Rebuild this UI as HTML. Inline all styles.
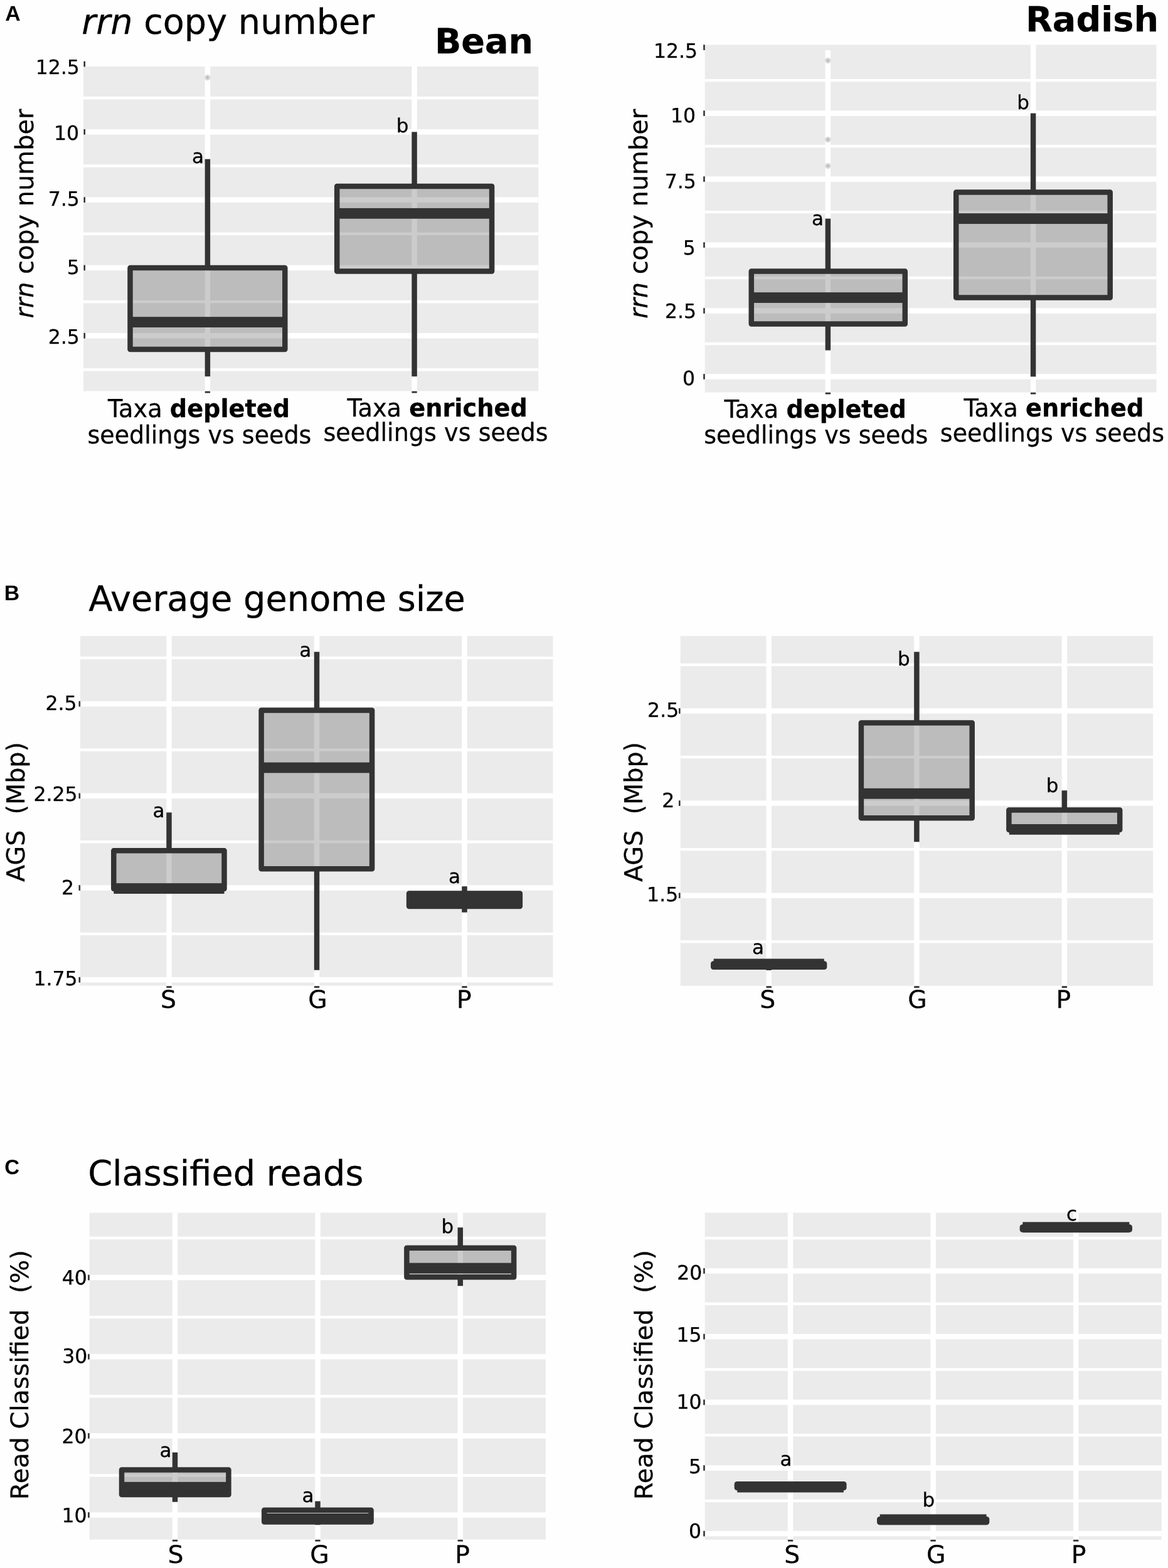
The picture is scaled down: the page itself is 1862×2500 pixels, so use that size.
<!DOCTYPE html>
<html lang="en">
<head>
<meta charset="utf-8">
<title>rrn copy number, average genome size and classified reads</title>
<style>
html,body{margin:0;padding:0;background:#fff;}
body{width:1862px;height:2500px;overflow:hidden;}
svg{display:block;}
text{font-family:"DejaVu Sans","Liberation Sans",sans-serif;fill:#000;stroke:#000;stroke-width:0.3px;stroke-linejoin:round;text-rendering:geometricPrecision;white-space:pre;}
</style>
</head>
<body>
<svg width="1862" height="2500" viewBox="0 0 1862 2500">
<rect x="0" y="0" width="1862" height="2500" fill="#fefefe"/>
<rect x="133" y="106" width="725.3" height="517.6" fill="#ebebeb"/>
<g fill="#fff">
<rect x="133" y="154" width="725.3" height="4.4"/>
<rect x="133" y="262.3" width="725.3" height="4.4"/>
<rect x="133" y="370.6" width="725.3" height="4.4"/>
<rect x="133" y="478.9" width="725.3" height="4.4"/>
<rect x="133" y="587.2" width="725.3" height="4.4"/>
<rect x="133" y="206.1" width="725.3" height="8.5"/>
<rect x="133" y="314.4" width="725.3" height="8.5"/>
<rect x="133" y="422.7" width="725.3" height="8.5"/>
<rect x="133" y="531" width="725.3" height="8.5"/>
<rect x="326.65" y="106" width="8.5" height="517.6"/>
<rect x="656.35" y="106" width="8.5" height="517.6"/>
</g>
<rect x="133.4" y="97.7" width="2.6" height="8.7" fill="#333333"/>
<rect x="133.4" y="206" width="2.6" height="8.7" fill="#333333"/>
<rect x="133.4" y="314.3" width="2.6" height="8.7" fill="#333333"/>
<rect x="133.4" y="422.6" width="2.6" height="8.7" fill="#333333"/>
<rect x="133.4" y="530.9" width="2.6" height="8.7" fill="#333333"/>
<rect x="326.75" y="623.8" width="8.3" height="2.8" fill="#333333"/>
<rect x="656.45" y="623.8" width="8.3" height="2.8" fill="#333333"/>
<circle cx="330.8" cy="123.71" r="4.6" fill="#c8c8c8" fill-opacity="0.75"/>
<circle cx="330.8" cy="123.71" r="1.6" fill="#aaaaaa" fill-opacity="0.8"/>
<rect x="326.65" y="253.67" width="8.5" height="173.28" fill="#333333"/>
<rect x="326.65" y="556.91" width="8.5" height="43.32" fill="#333333"/>
<rect x="207.5" y="426.95" width="246.8" height="129.96" fill="rgba(0,0,0,0.2)" stroke="#333333" stroke-width="8.5" stroke-linejoin="round"/>
<rect x="207.5" y="505.19" width="246.8" height="16.8" fill="#333333"/>
<rect x="656.35" y="210.35" width="8.5" height="86.64" fill="#333333"/>
<rect x="656.35" y="432.4" width="8.5" height="167.83" fill="#333333"/>
<rect x="537.2" y="296.99" width="246.9" height="135.41" fill="rgba(0,0,0,0.2)" stroke="#333333" stroke-width="8.5" stroke-linejoin="round"/>
<rect x="537.2" y="331.91" width="246.9" height="16.8" fill="#333333"/>
<text transform="translate(56.69 118.23)" font-size="31.5" xml:space="preserve">12.5</text>
<text transform="translate(86.06 223.33)" font-size="31.5" xml:space="preserve">10</text>
<text transform="translate(76.69 327.93)" font-size="31.5" xml:space="preserve">7.5</text>
<text transform="translate(106.78 437.23)" font-size="31.5" xml:space="preserve">5</text>
<text transform="translate(76.69 547.83)" font-size="31.5" xml:space="preserve">2.5</text>
<text transform="translate(305.97 259.85)" font-size="31" stroke-width="0.15" xml:space="preserve">a</text>
<text transform="translate(631.82 210.85)" font-size="31" stroke-width="0.15" xml:space="preserve">b</text>
<text transform="translate(53 507.59) rotate(-90)" font-size="39.83" xml:space="preserve"><tspan font-style="italic">rrn</tspan><tspan> copy number</tspan></text>
<text transform="translate(8.13 32.7)" font-size="33.8" xml:space="preserve"><tspan font-family="Liberation Sans, Arial, Helvetica, sans-serif" font-weight="bold" stroke="none">A</tspan></text>
<text transform="translate(130.35 54.3)" font-size="55.69" xml:space="preserve"><tspan font-style="italic">rrn</tspan><tspan> copy number</tspan></text>
<text transform="translate(692.91 84.5) scale(1 0.9920)" font-size="55.65" xml:space="preserve"><tspan font-weight="bold">Bean</tspan></text>
<text transform="translate(172 665.2) scale(1 1.0350)" font-size="38.28" xml:space="preserve"><tspan>Taxa </tspan><tspan font-weight="bold">depleted</tspan></text>
<text transform="translate(139.51 707) scale(1 1.0450)" font-size="38.03" xml:space="preserve">seedlings vs seeds</text>
<text transform="translate(553.4 664) scale(1 1.0350)" font-size="38.3" xml:space="preserve"><tspan>Taxa </tspan><tspan font-weight="bold">enriched</tspan></text>
<text transform="translate(515.4 703.4) scale(1 1.0450)" font-size="38.17" xml:space="preserve">seedlings vs seeds</text>
<rect x="1123.7" y="71.4" width="719.8" height="554.2" fill="#ebebeb"/>
<g fill="#fff">
<rect x="1123.7" y="125.91" width="719.8" height="4.4"/>
<rect x="1123.7" y="230.89" width="719.8" height="4.4"/>
<rect x="1123.7" y="335.86" width="719.8" height="4.4"/>
<rect x="1123.7" y="440.84" width="719.8" height="4.4"/>
<rect x="1123.7" y="545.81" width="719.8" height="4.4"/>
<rect x="1123.7" y="176.35" width="719.8" height="8.5"/>
<rect x="1123.7" y="281.32" width="719.8" height="8.5"/>
<rect x="1123.7" y="386.3" width="719.8" height="8.5"/>
<rect x="1123.7" y="491.27" width="719.8" height="8.5"/>
<rect x="1123.7" y="596.25" width="719.8" height="8.5"/>
<rect x="1315.65" y="80" width="8.5" height="545.6"/>
<rect x="1642.85" y="71.4" width="8.5" height="554.2"/>
</g>
<rect x="1121.2" y="71.27" width="2.6" height="8.7" fill="#333333"/>
<rect x="1121.2" y="176.25" width="2.6" height="8.7" fill="#333333"/>
<rect x="1121.2" y="281.22" width="2.6" height="8.7" fill="#333333"/>
<rect x="1121.2" y="386.2" width="2.6" height="8.7" fill="#333333"/>
<rect x="1121.2" y="491.17" width="2.6" height="8.7" fill="#333333"/>
<rect x="1121.2" y="596.15" width="2.6" height="8.7" fill="#333333"/>
<rect x="1315.75" y="625.8" width="8.3" height="2.8" fill="#333333"/>
<rect x="1642.95" y="625.8" width="8.3" height="2.8" fill="#333333"/>
<circle cx="1319.9" cy="96.62" r="4.6" fill="#c8c8c8" fill-opacity="0.75"/>
<circle cx="1319.9" cy="96.62" r="1.6" fill="#aaaaaa" fill-opacity="0.8"/>
<circle cx="1319.9" cy="222.59" r="4.6" fill="#c8c8c8" fill-opacity="0.75"/>
<circle cx="1319.9" cy="222.59" r="1.6" fill="#aaaaaa" fill-opacity="0.8"/>
<circle cx="1319.9" cy="264.58" r="4.6" fill="#c8c8c8" fill-opacity="0.75"/>
<circle cx="1319.9" cy="264.58" r="1.6" fill="#aaaaaa" fill-opacity="0.8"/>
<rect x="1315.65" y="348.56" width="8.5" height="83.98" fill="#333333"/>
<rect x="1315.65" y="516.52" width="8.5" height="41.99" fill="#333333"/>
<rect x="1197.8" y="432.54" width="245" height="83.98" fill="rgba(0,0,0,0.2)" stroke="#333333" stroke-width="8.5" stroke-linejoin="round"/>
<rect x="1197.8" y="466.13" width="245" height="16.8" fill="#333333"/>
<rect x="1642.85" y="180.6" width="8.5" height="125.97" fill="#333333"/>
<rect x="1642.85" y="474.53" width="8.5" height="125.97" fill="#333333"/>
<rect x="1524.2" y="306.57" width="245.5" height="167.96" fill="rgba(0,0,0,0.2)" stroke="#333333" stroke-width="8.5" stroke-linejoin="round"/>
<rect x="1524.2" y="340.16" width="245.5" height="16.8" fill="#333333"/>
<text transform="translate(1041.99 91.73)" font-size="31.5" xml:space="preserve">12.5</text>
<text transform="translate(1068.96 194.93)" font-size="31.5" xml:space="preserve">10</text>
<text transform="translate(1059.69 299.83)" font-size="31.5" xml:space="preserve">7.5</text>
<text transform="translate(1088.67 405.93)" font-size="31.5" xml:space="preserve">5</text>
<text transform="translate(1059.99 506.73)" font-size="31.5" xml:space="preserve">2.5</text>
<text transform="translate(1088.05 613.63)" font-size="31.5" xml:space="preserve">0</text>
<text transform="translate(1293.97 358.85)" font-size="31" stroke-width="0.15" xml:space="preserve">a</text>
<text transform="translate(1621.21 173.55)" font-size="31" stroke-width="0.15" xml:space="preserve">b</text>
<text transform="translate(1031.7 508.1) rotate(-90)" font-size="39.88" xml:space="preserve"><tspan font-style="italic">rrn</tspan><tspan> copy number</tspan></text>
<text transform="translate(1634.92 50.4) scale(1 0.9900)" font-size="55.7" xml:space="preserve"><tspan font-weight="bold">Radish</tspan></text>
<text transform="translate(1154.7 666.2) scale(1 1.0350)" font-size="38.29" xml:space="preserve"><tspan>Taxa </tspan><tspan font-weight="bold">depleted</tspan></text>
<text transform="translate(1122.21 707.3) scale(1 1.0450)" font-size="38.06" xml:space="preserve">seedlings vs seeds</text>
<text transform="translate(1536.4 664) scale(1 1.0350)" font-size="38.23" xml:space="preserve"><tspan>Taxa </tspan><tspan font-weight="bold">enriched</tspan></text>
<text transform="translate(1498.81 704) scale(1 1.0450)" font-size="38.07" xml:space="preserve">seedlings vs seeds</text>
<rect x="128" y="1014" width="753.5" height="557.6" fill="#ebebeb"/>
<g fill="#fff">
<rect x="128" y="1046.72" width="753.5" height="4.4"/>
<rect x="128" y="1193.38" width="753.5" height="4.4"/>
<rect x="128" y="1340.02" width="753.5" height="4.4"/>
<rect x="128" y="1486.67" width="753.5" height="4.4"/>
<rect x="128" y="1118" width="753.5" height="8.5"/>
<rect x="128" y="1264.65" width="753.5" height="8.5"/>
<rect x="128" y="1411.3" width="753.5" height="8.5"/>
<rect x="128" y="1557.95" width="753.5" height="8.5"/>
<rect x="265.25" y="1014" width="8.5" height="557.6"/>
<rect x="500.75" y="1014" width="8.5" height="557.6"/>
<rect x="736.25" y="1014" width="8.5" height="557.6"/>
</g>
<rect x="125.5" y="1117.9" width="2.6" height="8.7" fill="#333333"/>
<rect x="125.5" y="1264.55" width="2.6" height="8.7" fill="#333333"/>
<rect x="125.5" y="1411.2" width="2.6" height="8.7" fill="#333333"/>
<rect x="125.5" y="1557.85" width="2.6" height="8.7" fill="#333333"/>
<rect x="265.35" y="1572.2" width="8.3" height="2.8" fill="#333333"/>
<rect x="500.85" y="1572.2" width="8.3" height="2.8" fill="#333333"/>
<rect x="736.35" y="1572.2" width="8.3" height="2.8" fill="#333333"/>
<rect x="265.25" y="1295.4" width="8.5" height="60.8" fill="#333333"/>
<rect x="265.25" y="1417" width="8.5" height="3" fill="#333333"/>
<rect x="181.3" y="1356.2" width="176.2" height="60.8" fill="rgba(0,0,0,0.2)" stroke="#333333" stroke-width="8.5" stroke-linejoin="round"/>
<rect x="181.3" y="1408.2" width="176.2" height="16.8" fill="#333333"/>
<rect x="500.75" y="1039.3" width="8.5" height="93.3" fill="#333333"/>
<rect x="500.75" y="1385.3" width="8.5" height="161.4" fill="#333333"/>
<rect x="416.6" y="1132.6" width="176.5" height="252.7" fill="rgba(0,0,0,0.2)" stroke="#333333" stroke-width="8.5" stroke-linejoin="round"/>
<rect x="416.6" y="1215.6" width="176.5" height="16.8" fill="#333333"/>
<rect x="736.25" y="1413.2" width="8.5" height="11.2" fill="#333333"/>
<rect x="736.25" y="1445" width="8.5" height="9.7" fill="#333333"/>
<rect x="652.1" y="1424.4" width="176.8" height="20.6" fill="rgba(0,0,0,0.2)" stroke="#333333" stroke-width="8.5" stroke-linejoin="round"/>
<rect x="652.1" y="1426.3" width="176.8" height="16.8" fill="#333333"/>
<text transform="translate(72.39 1132.23)" font-size="31.5" xml:space="preserve">2.5</text>
<text transform="translate(53.49 1277.03)" font-size="31.5" xml:space="preserve">2.25</text>
<text transform="translate(97.95 1426.4)" font-size="31.5" xml:space="preserve">2</text>
<text transform="translate(53.49 1571.13)" font-size="31.5" xml:space="preserve">1.75</text>
<text transform="translate(243.47 1302.55)" font-size="31" stroke-width="0.15" xml:space="preserve">a</text>
<text transform="translate(477.27 1047.05)" font-size="31" stroke-width="0.15" xml:space="preserve">a</text>
<text transform="translate(714.97 1407.55)" font-size="31" stroke-width="0.15" xml:space="preserve">a</text>
<text transform="translate(39.3 1405.9) rotate(-90)" font-size="39.64" xml:space="preserve">AGS  (Mbp)</text>
<text transform="translate(6.76 956.8)" font-size="33.8" xml:space="preserve"><tspan font-family="Liberation Sans, Arial, Helvetica, sans-serif" font-weight="bold" stroke="none">B</tspan></text>
<text transform="translate(141.18 974.2)" font-size="55.8" xml:space="preserve">Average genome size</text>
<text transform="translate(255.89 1606.7) scale(1 0.9900)" font-size="39.4" xml:space="preserve">S</text>
<text transform="translate(491.37 1606.7) scale(1 0.9900)" font-size="39.4" xml:space="preserve">G</text>
<text transform="translate(728.05 1606.7) scale(1 0.9900)" font-size="39.4" xml:space="preserve">P</text>
<rect x="1084.7" y="1014" width="753.4" height="557.8" fill="#ebebeb"/>
<g fill="#fff">
<rect x="1084.7" y="1057.72" width="753.4" height="4.4"/>
<rect x="1084.7" y="1204.88" width="753.4" height="4.4"/>
<rect x="1084.7" y="1352.02" width="753.4" height="4.4"/>
<rect x="1084.7" y="1499.17" width="753.4" height="4.4"/>
<rect x="1084.7" y="1129.25" width="753.4" height="8.5"/>
<rect x="1084.7" y="1276.4" width="753.4" height="8.5"/>
<rect x="1084.7" y="1423.55" width="753.4" height="8.5"/>
<rect x="1221.45" y="1014" width="8.5" height="557.8"/>
<rect x="1457.15" y="1014" width="8.5" height="557.8"/>
<rect x="1692.65" y="1014" width="8.5" height="557.8"/>
</g>
<rect x="1082" y="1129.15" width="2.6" height="8.7" fill="#333333"/>
<rect x="1082" y="1276.3" width="2.6" height="8.7" fill="#333333"/>
<rect x="1082" y="1423.45" width="2.6" height="8.7" fill="#333333"/>
<rect x="1221.55" y="1572.2" width="8.3" height="2.8" fill="#333333"/>
<rect x="1457.25" y="1572.2" width="8.3" height="2.8" fill="#333333"/>
<rect x="1692.75" y="1572.2" width="8.3" height="2.8" fill="#333333"/>
<rect x="1221.45" y="1530" width="8.5" height="6.6" fill="#333333"/>
<rect x="1221.45" y="1541.8" width="8.5" height="5.2" fill="#333333"/>
<rect x="1137.3" y="1536.6" width="176.8" height="5.2" fill="rgba(0,0,0,0.2)" stroke="#333333" stroke-width="8.5" stroke-linejoin="round"/>
<rect x="1137.7" y="1528.6" width="176" height="16.8" fill="#333333"/>
<rect x="1457.15" y="1039.3" width="8.5" height="113.1" fill="#333333"/>
<rect x="1457.15" y="1304.2" width="8.5" height="38.1" fill="#333333"/>
<rect x="1372.9" y="1152.4" width="176.8" height="151.8" fill="rgba(0,0,0,0.2)" stroke="#333333" stroke-width="8.5" stroke-linejoin="round"/>
<rect x="1372.9" y="1256.9" width="176.8" height="16.8" fill="#333333"/>
<rect x="1692.65" y="1260.3" width="8.5" height="31.1" fill="#333333"/>
<rect x="1692.65" y="1323" width="8.5" height="2" fill="#333333"/>
<rect x="1608.4" y="1291.4" width="176.8" height="31.6" fill="rgba(0,0,0,0.2)" stroke="#333333" stroke-width="8.5" stroke-linejoin="round"/>
<rect x="1608.8" y="1314" width="176" height="16.8" fill="#333333"/>
<text transform="translate(1032.09 1142.53)" font-size="31.5" xml:space="preserve">2.5</text>
<text transform="translate(1055.25 1287.1)" font-size="31.5" xml:space="preserve">2</text>
<text transform="translate(1031.09 1437.13)" font-size="31.5" xml:space="preserve">1.5</text>
<text transform="translate(1198.97 1521.45)" font-size="31" stroke-width="0.15" xml:space="preserve">a</text>
<text transform="translate(1431.12 1060.95)" font-size="31" stroke-width="0.15" xml:space="preserve">b</text>
<text transform="translate(1667.82 1262.85)" font-size="31" stroke-width="0.15" xml:space="preserve">b</text>
<text transform="translate(1024.4 1406.1) rotate(-90)" font-size="39.69" xml:space="preserve">AGS  (Mbp)</text>
<text transform="translate(1211.19 1606.7) scale(1 0.9900)" font-size="39.4" xml:space="preserve">S</text>
<text transform="translate(1447.17 1606.7) scale(1 0.9900)" font-size="39.4" xml:space="preserve">G</text>
<text transform="translate(1683.45 1606.7) scale(1 0.9900)" font-size="39.4" xml:space="preserve">P</text>
<rect x="142.6" y="1933.5" width="727.4" height="521.1" fill="#ebebeb"/>
<g fill="#fff">
<rect x="142.6" y="1971.6" width="727.4" height="4.4"/>
<rect x="142.6" y="2097.8" width="727.4" height="4.4"/>
<rect x="142.6" y="2224" width="727.4" height="4.4"/>
<rect x="142.6" y="2350.2" width="727.4" height="4.4"/>
<rect x="142.6" y="2032.65" width="727.4" height="8.5"/>
<rect x="142.6" y="2158.85" width="727.4" height="8.5"/>
<rect x="142.6" y="2285.05" width="727.4" height="8.5"/>
<rect x="142.6" y="2411.25" width="727.4" height="8.5"/>
<rect x="274.75" y="1933.5" width="8.5" height="521.1"/>
<rect x="502.25" y="1933.5" width="8.5" height="521.1"/>
<rect x="729.55" y="1933.5" width="8.5" height="521.1"/>
</g>
<rect x="140.1" y="2032.55" width="2.6" height="8.7" fill="#333333"/>
<rect x="140.1" y="2158.75" width="2.6" height="8.7" fill="#333333"/>
<rect x="140.1" y="2284.95" width="2.6" height="8.7" fill="#333333"/>
<rect x="140.1" y="2411.15" width="2.6" height="8.7" fill="#333333"/>
<rect x="274.85" y="2454.9" width="8.3" height="2.8" fill="#333333"/>
<rect x="502.35" y="2454.9" width="8.3" height="2.8" fill="#333333"/>
<rect x="729.65" y="2454.9" width="8.3" height="2.8" fill="#333333"/>
<rect x="274.75" y="2315.7" width="8.5" height="27.7" fill="#333333"/>
<rect x="274.75" y="2382.9" width="8.5" height="11.8" fill="#333333"/>
<rect x="194" y="2343.4" width="170.4" height="39.5" fill="rgba(0,0,0,0.2)" stroke="#333333" stroke-width="8.5" stroke-linejoin="round"/>
<rect x="194" y="2362.8" width="170.4" height="16.8" fill="#333333"/>
<rect x="502.25" y="2393.5" width="8.5" height="14.2" fill="#333333"/>
<rect x="502.25" y="2426.5" width="8.5" height="4.8" fill="#333333"/>
<rect x="421.2" y="2407.7" width="170.4" height="18.8" fill="rgba(0,0,0,0.2)" stroke="#333333" stroke-width="8.5" stroke-linejoin="round"/>
<rect x="421.2" y="2413" width="170.4" height="16.8" fill="#333333"/>
<rect x="729.55" y="1957.1" width="8.5" height="32.7" fill="#333333"/>
<rect x="729.55" y="2036.3" width="8.5" height="14" fill="#333333"/>
<rect x="648.4" y="1989.8" width="170.8" height="46.5" fill="rgba(0,0,0,0.2)" stroke="#333333" stroke-width="8.5" stroke-linejoin="round"/>
<rect x="648.4" y="2013.6" width="170.8" height="16.8" fill="#333333"/>
<text transform="translate(98.76 2047.83)" font-size="31.5" xml:space="preserve">40</text>
<text transform="translate(99.16 2172.63)" font-size="31.5" xml:space="preserve">30</text>
<text transform="translate(98.46 2301.13)" font-size="31.5" xml:space="preserve">20</text>
<text transform="translate(98.46 2427.23)" font-size="31.5" xml:space="preserve">10</text>
<text transform="translate(254.57 2322.75)" font-size="31" stroke-width="0.15" xml:space="preserve">a</text>
<text transform="translate(481.57 2394.55)" font-size="31" stroke-width="0.15" xml:space="preserve">a</text>
<text transform="translate(703.62 1965.75)" font-size="31" stroke-width="0.15" xml:space="preserve">b</text>
<text transform="translate(45.2 2391.29) rotate(-90) scale(1 0.9750)" font-size="39.9" xml:space="preserve">Read Classified  (%)</text>
<text transform="translate(7.37 1872.17)" font-size="33" xml:space="preserve"><tspan font-family="Liberation Sans, Arial, Helvetica, sans-serif" font-weight="bold" stroke="none">C</tspan></text>
<text transform="translate(140.18 1890.2)" font-size="55.75" xml:space="preserve">Classified reads</text>
<text transform="translate(267.59 2491.6) scale(1 0.9900)" font-size="39.4" xml:space="preserve">S</text>
<text transform="translate(494.27 2491.6) scale(1 0.9900)" font-size="39.4" xml:space="preserve">G</text>
<text transform="translate(725.35 2491.6) scale(1 0.9900)" font-size="39.4" xml:space="preserve">P</text>
<rect x="1123.7" y="1933.5" width="728" height="521.4" fill="#ebebeb"/>
<g fill="#fff">
<rect x="1123.7" y="1971.85" width="728" height="4.4"/>
<rect x="1123.7" y="2076.55" width="728" height="4.4"/>
<rect x="1123.7" y="2181.25" width="728" height="4.4"/>
<rect x="1123.7" y="2285.95" width="728" height="4.4"/>
<rect x="1123.7" y="2390.65" width="728" height="4.4"/>
<rect x="1123.7" y="2022.15" width="728" height="8.5"/>
<rect x="1123.7" y="2126.85" width="728" height="8.5"/>
<rect x="1123.7" y="2231.55" width="728" height="8.5"/>
<rect x="1123.7" y="2336.25" width="728" height="8.5"/>
<rect x="1123.7" y="2440.95" width="728" height="8.5"/>
<rect x="1255.85" y="1933.5" width="8.5" height="521.4"/>
<rect x="1483.35" y="1933.5" width="8.5" height="521.4"/>
<rect x="1710.95" y="1933.5" width="8.5" height="521.4"/>
</g>
<rect x="1121.2" y="2022.05" width="2.6" height="8.7" fill="#333333"/>
<rect x="1121.2" y="2126.75" width="2.6" height="8.7" fill="#333333"/>
<rect x="1121.2" y="2231.45" width="2.6" height="8.7" fill="#333333"/>
<rect x="1121.2" y="2336.15" width="2.6" height="8.7" fill="#333333"/>
<rect x="1121.2" y="2440.85" width="2.6" height="8.7" fill="#333333"/>
<rect x="1255.95" y="2454.9" width="8.3" height="2.8" fill="#333333"/>
<rect x="1483.45" y="2454.9" width="8.3" height="2.8" fill="#333333"/>
<rect x="1711.05" y="2454.9" width="8.3" height="2.8" fill="#333333"/>
<rect x="1174.9" y="2366.2" width="170.4" height="5.8" fill="rgba(0,0,0,0.2)" stroke="#333333" stroke-width="8.5" stroke-linejoin="round"/>
<rect x="1175.3" y="2362.7" width="169.6" height="16.8" fill="#333333"/>
<rect x="1402.3" y="2422.3" width="170.7" height="4.7" fill="rgba(0,0,0,0.2)" stroke="#333333" stroke-width="8.5" stroke-linejoin="round"/>
<rect x="1402.7" y="2414.4" width="169.9" height="16.8" fill="#333333"/>
<rect x="1629.9" y="1956.5" width="170.9" height="4" fill="rgba(0,0,0,0.2)" stroke="#333333" stroke-width="8.5" stroke-linejoin="round"/>
<rect x="1630.3" y="1948.4" width="170.1" height="16.8" fill="#333333"/>
<text transform="translate(1079.16 2039.73)" font-size="31.5" xml:space="preserve">20</text>
<text transform="translate(1078.49 2138.73)" font-size="31.5" xml:space="preserve">15</text>
<text transform="translate(1078.46 2245.63)" font-size="31.5" xml:space="preserve">10</text>
<text transform="translate(1097.88 2349.43)" font-size="31.5" xml:space="preserve">5</text>
<text transform="translate(1097.95 2452.03)" font-size="31.5" xml:space="preserve">0</text>
<text transform="translate(1243.57 2337.35)" font-size="31" stroke-width="0.15" xml:space="preserve">a</text>
<text transform="translate(1470.41 2402.05)" font-size="31" stroke-width="0.15" xml:space="preserve">b</text>
<text transform="translate(1700.09 1945.75)" font-size="31" stroke-width="0.15" xml:space="preserve">c</text>
<text transform="translate(1040 2391.29) rotate(-90) scale(1 0.9750)" font-size="39.9" xml:space="preserve">Read Classified  (%)</text>
<text transform="translate(1250.19 2491.6) scale(1 0.9900)" font-size="39.4" xml:space="preserve">S</text>
<text transform="translate(1477.07 2491.6) scale(1 0.9900)" font-size="39.4" xml:space="preserve">G</text>
<text transform="translate(1707.65 2491.6) scale(1 0.9900)" font-size="39.4" xml:space="preserve">P</text>
</svg>
</body>
</html>
